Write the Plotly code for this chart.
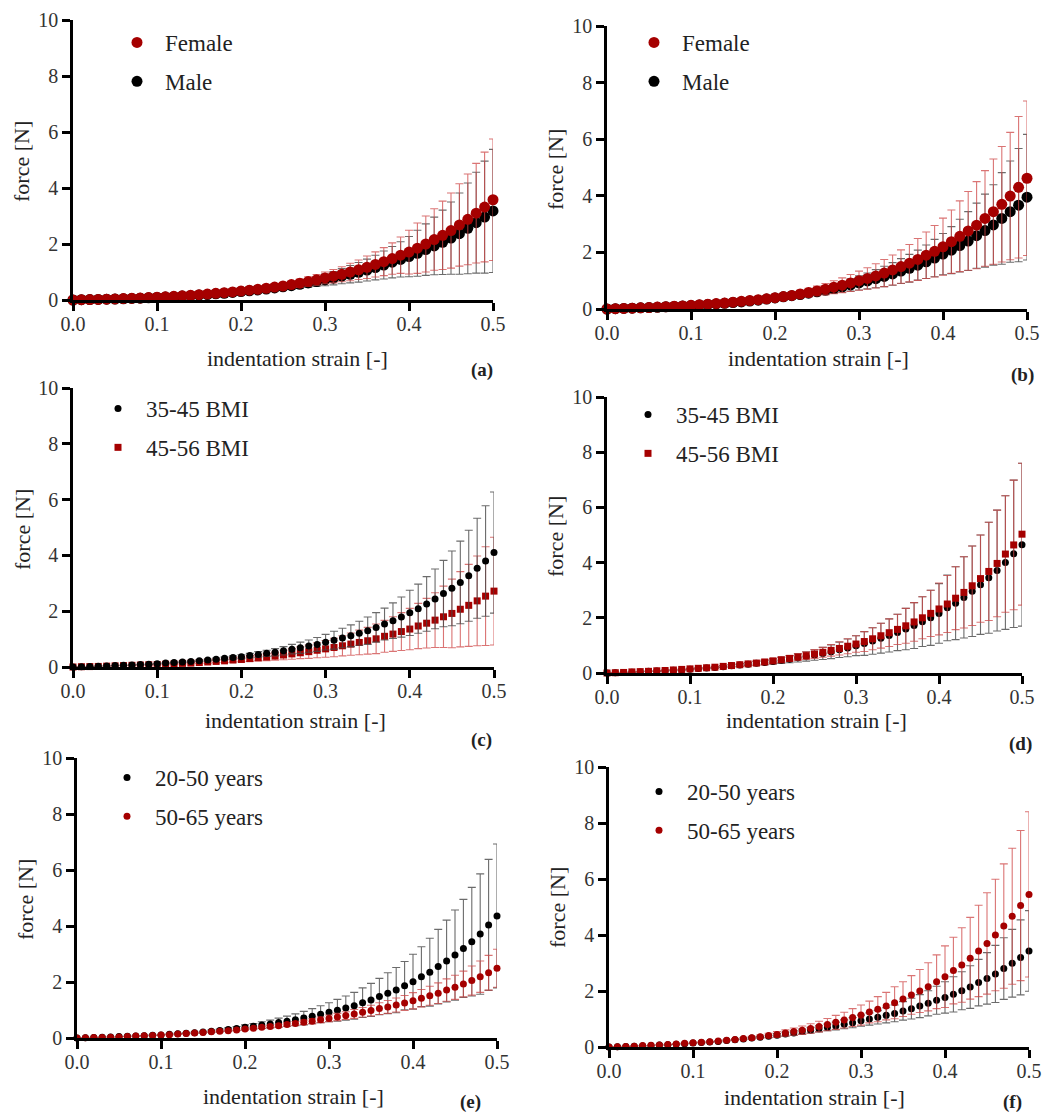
import plotly.graph_objects as go

W, H = 1043, 1115

FONT = "Liberation Serif, Times New Roman, serif"
RED = "#A50000"
BLACK = "#000000"
RED_ERR = "rgba(205,70,70,0.75)"
BLACK_ERR = "rgba(70,70,70,0.8)"

STRAIN = [0.00, 0.01, 0.02, 0.03, 0.04, 0.05, 0.06, 0.07, 0.08, 0.09,
          0.10, 0.11, 0.12, 0.13, 0.14, 0.15, 0.16, 0.17, 0.18, 0.19,
          0.20, 0.21, 0.22, 0.23, 0.24, 0.25, 0.26, 0.27, 0.28, 0.29,
          0.30, 0.31, 0.32, 0.33, 0.34, 0.35, 0.36, 0.37, 0.38, 0.39,
          0.40, 0.41, 0.42, 0.43, 0.44, 0.45, 0.46, 0.47, 0.48, 0.49,
          0.50]

X_TICKS = [0.0, 0.1, 0.2, 0.3, 0.4, 0.5]
Y_TICKS = [0, 2, 4, 6, 8, 10]

# ---------------- panel (a) ----------------
A_FEMALE_MEAN = [0.00, 0.01, 0.015, 0.02, 0.03, 0.04, 0.05, 0.06, 0.07, 0.085,
                 0.10, 0.115, 0.13, 0.15, 0.17, 0.19, 0.21, 0.24, 0.26, 0.29,
                 0.32, 0.35, 0.38, 0.42, 0.46, 0.50, 0.55, 0.60, 0.66, 0.72,
                 0.79, 0.85, 0.92, 1.00, 1.08, 1.17, 1.27, 1.37, 1.48, 1.60,
                 1.71, 1.85, 2.00, 2.16, 2.31, 2.48, 2.68, 2.88, 3.10, 3.32,
                 3.58]
A_FEMALE_SD = [0.0, 0.002, 0.003, 0.004, 0.005, 0.006, 0.007, 0.008, 0.01, 0.012,
               0.014, 0.016, 0.018, 0.02, 0.023, 0.026, 0.03, 0.034, 0.038, 0.043,
               0.05, 0.06, 0.07, 0.08, 0.09, 0.11, 0.13, 0.15, 0.17, 0.19,
               0.21, 0.24, 0.27, 0.31, 0.35, 0.40, 0.45, 0.50, 0.56, 0.65,
               0.78, 0.90, 1.00, 1.10, 1.22, 1.34, 1.47, 1.62, 1.78, 1.96,
               2.17]
A_MALE_MEAN = [0.00, 0.01, 0.015, 0.02, 0.03, 0.035, 0.045, 0.055, 0.065, 0.08,
               0.09, 0.105, 0.12, 0.14, 0.155, 0.175, 0.195, 0.22, 0.24, 0.27,
               0.30, 0.33, 0.36, 0.39, 0.43, 0.47, 0.51, 0.56, 0.61, 0.66,
               0.72, 0.78, 0.85, 0.92, 0.99, 1.07, 1.16, 1.25, 1.35, 1.45,
               1.55, 1.67, 1.80, 1.93, 2.06, 2.21, 2.37, 2.56, 2.76, 2.96,
               3.18]
A_MALE_SD = [0.0, 0.002, 0.003, 0.004, 0.005, 0.006, 0.007, 0.008, 0.009, 0.011,
             0.013, 0.015, 0.017, 0.019, 0.021, 0.024, 0.028, 0.032, 0.036, 0.041,
             0.05, 0.055, 0.065, 0.075, 0.085, 0.10, 0.12, 0.14, 0.16, 0.18,
             0.21, 0.24, 0.27, 0.31, 0.35, 0.39, 0.44, 0.50, 0.56, 0.63,
             0.72, 0.82, 0.92, 1.03, 1.15, 1.29, 1.45, 1.62, 1.80, 2.00,
             2.20]

# ---------------- panel (b) ----------------
B_FEMALE_MEAN = [0.00, 0.01, 0.02, 0.03, 0.04, 0.05, 0.07, 0.08, 0.10, 0.11,
                 0.13, 0.15, 0.17, 0.19, 0.21, 0.24, 0.27, 0.30, 0.33, 0.36,
                 0.40, 0.44, 0.48, 0.53, 0.58, 0.64, 0.70, 0.77, 0.84, 0.92,
                 1.00, 1.08, 1.17, 1.27, 1.38, 1.50, 1.62, 1.75, 1.90, 2.04,
                 2.20, 2.38, 2.57, 2.76, 2.96, 3.20, 3.44, 3.70, 3.99, 4.30,
                 4.62]
B_FEMALE_SD = [0.0, 0.003, 0.005, 0.007, 0.009, 0.011, 0.013, 0.015, 0.018, 0.021,
               0.024, 0.027, 0.03, 0.034, 0.038, 0.042, 0.047, 0.052, 0.06, 0.07,
               0.08, 0.09, 0.11, 0.13, 0.15, 0.17, 0.20, 0.23, 0.26, 0.30,
               0.34, 0.38, 0.43, 0.48, 0.53, 0.59, 0.66, 0.74, 0.82, 0.91,
               1.01, 1.12, 1.25, 1.39, 1.54, 1.69, 1.86, 2.04, 2.25, 2.50,
               2.73]
B_MALE_MEAN = [0.00, 0.01, 0.02, 0.03, 0.04, 0.05, 0.06, 0.08, 0.09, 0.11,
               0.12, 0.14, 0.16, 0.18, 0.20, 0.23, 0.25, 0.28, 0.31, 0.35,
               0.39, 0.43, 0.47, 0.51, 0.56, 0.61, 0.66, 0.72, 0.78, 0.85,
               0.92, 0.99, 1.07, 1.15, 1.24, 1.34, 1.44, 1.55, 1.67, 1.80,
               1.94, 2.08, 2.24, 2.40, 2.59, 2.77, 2.97, 3.20, 3.44, 3.67,
               3.95]
B_MALE_SD = [0.0, 0.003, 0.005, 0.007, 0.009, 0.011, 0.013, 0.015, 0.017, 0.019,
             0.021, 0.024, 0.027, 0.03, 0.034, 0.038, 0.042, 0.046, 0.05, 0.055,
             0.06, 0.07, 0.08, 0.09, 0.11, 0.13, 0.15, 0.17, 0.19, 0.22,
             0.25, 0.28, 0.32, 0.36, 0.40, 0.44, 0.49, 0.53, 0.59, 0.66,
             0.73, 0.83, 0.93, 1.04, 1.15, 1.29, 1.42, 1.62, 1.79, 2.00,
             2.22]

# ---------------- panel (c) ----------------
C_BMI35_MEAN = [0.00, 0.01, 0.02, 0.03, 0.04, 0.05, 0.06, 0.07, 0.09, 0.10,
                0.12, 0.14, 0.16, 0.18, 0.20, 0.22, 0.25, 0.28, 0.31, 0.34,
                0.37, 0.41, 0.45, 0.49, 0.53, 0.58, 0.64, 0.69, 0.75, 0.81,
                0.89, 0.96, 1.04, 1.12, 1.21, 1.30, 1.42, 1.54, 1.66, 1.79,
                1.94, 2.09, 2.26, 2.44, 2.63, 2.82, 3.03, 3.27, 3.54, 3.80,
                4.10]
C_BMI35_SD = [0.0, 0.002, 0.003, 0.004, 0.005, 0.006, 0.007, 0.008, 0.01, 0.012,
              0.014, 0.016, 0.018, 0.02, 0.022, 0.025, 0.03, 0.04, 0.05, 0.06,
              0.07, 0.08, 0.10, 0.11, 0.13, 0.15, 0.17, 0.20, 0.22, 0.25,
              0.28, 0.32, 0.35, 0.39, 0.43, 0.49, 0.53, 0.57, 0.64, 0.72,
              0.81, 0.88, 0.98, 1.07, 1.19, 1.34, 1.48, 1.63, 1.79, 1.98,
              2.17]
C_BMI45_MEAN = [0.00, 0.01, 0.015, 0.02, 0.03, 0.04, 0.05, 0.06, 0.07, 0.08,
                0.09, 0.10, 0.11, 0.13, 0.14, 0.16, 0.18, 0.20, 0.22, 0.25,
                0.27, 0.30, 0.33, 0.36, 0.39, 0.43, 0.47, 0.51, 0.55, 0.60,
                0.65, 0.70, 0.76, 0.82, 0.88, 0.94, 1.01, 1.10, 1.18, 1.27,
                1.36, 1.47, 1.57, 1.68, 1.80, 1.92, 2.07, 2.21, 2.37, 2.54,
                2.72]
C_BMI45_SD = [0.0, 0.002, 0.003, 0.004, 0.005, 0.006, 0.007, 0.008, 0.01, 0.012,
              0.014, 0.016, 0.018, 0.02, 0.025, 0.03, 0.04, 0.05, 0.06, 0.07,
              0.08, 0.10, 0.11, 0.13, 0.15, 0.17, 0.19, 0.21, 0.24, 0.27,
              0.30, 0.33, 0.36, 0.40, 0.44, 0.48, 0.53, 0.57, 0.62, 0.68,
              0.74, 0.81, 0.89, 0.98, 1.10, 1.23, 1.35, 1.47, 1.61, 1.77,
              1.93]

# ---------------- panel (d) ----------------
D_BMI35_MEAN = [0.00, 0.01, 0.02, 0.03, 0.04, 0.06, 0.07, 0.09, 0.10, 0.12,
                0.14, 0.16, 0.18, 0.20, 0.23, 0.26, 0.29, 0.32, 0.35, 0.38,
                0.42, 0.46, 0.50, 0.55, 0.60, 0.65, 0.71, 0.77, 0.84, 0.91,
                0.99, 1.07, 1.16, 1.26, 1.36, 1.47, 1.59, 1.72, 1.86, 2.00,
                2.16, 2.36, 2.53, 2.74, 2.96, 3.20, 3.45, 3.71, 4.00, 4.32,
                4.65]
D_BMI35_SD = [0.0, 0.002, 0.003, 0.005, 0.006, 0.008, 0.01, 0.012, 0.014, 0.016,
              0.018, 0.02, 0.02, 0.03, 0.03, 0.04, 0.05, 0.06, 0.07, 0.08,
              0.09, 0.11, 0.13, 0.15, 0.17, 0.19, 0.22, 0.25, 0.28, 0.32,
              0.36, 0.43, 0.48, 0.54, 0.60, 0.66, 0.75, 0.83, 0.90, 1.00,
              1.08, 1.19, 1.32, 1.47, 1.64, 1.80, 2.01, 2.19, 2.42, 2.67,
              2.95]
D_BMI45_MEAN = [0.00, 0.01, 0.02, 0.04, 0.05, 0.06, 0.08, 0.09, 0.11, 0.13,
                0.15, 0.17, 0.19, 0.21, 0.24, 0.27, 0.30, 0.33, 0.36, 0.40,
                0.44, 0.48, 0.53, 0.58, 0.63, 0.69, 0.75, 0.82, 0.89, 0.97,
                1.05, 1.14, 1.24, 1.35, 1.46, 1.58, 1.71, 1.85, 2.00, 2.16,
                2.32, 2.50, 2.71, 2.92, 3.16, 3.42, 3.68, 3.97, 4.31, 4.64,
                5.03]
D_BMI45_SD = [0.0, 0.002, 0.003, 0.005, 0.006, 0.008, 0.01, 0.012, 0.014, 0.016,
              0.018, 0.02, 0.02, 0.03, 0.03, 0.04, 0.05, 0.06, 0.07, 0.075,
              0.08, 0.09, 0.10, 0.12, 0.14, 0.16, 0.18, 0.21, 0.24, 0.27,
              0.30, 0.36, 0.40, 0.45, 0.50, 0.55, 0.63, 0.70, 0.76, 0.84,
              0.94, 1.03, 1.14, 1.29, 1.44, 1.58, 1.78, 1.93, 2.11, 2.35,
              2.57]

# ---------------- panel (e) ----------------
E_AGE20_MEAN = [0.00, 0.01, 0.02, 0.03, 0.04, 0.05, 0.06, 0.07, 0.08, 0.10,
                0.11, 0.13, 0.15, 0.17, 0.19, 0.21, 0.24, 0.27, 0.30, 0.34,
                0.38, 0.42, 0.46, 0.50, 0.55, 0.60, 0.65, 0.71, 0.78, 0.85,
                0.92, 0.99, 1.07, 1.15, 1.26, 1.36, 1.48, 1.60, 1.71, 1.87,
                2.01, 2.19, 2.35, 2.55, 2.75, 2.96, 3.20, 3.44, 3.71, 4.04,
                4.36]
E_AGE20_SD = [0.0, 0.002, 0.003, 0.004, 0.005, 0.006, 0.007, 0.008, 0.01, 0.012,
              0.014, 0.016, 0.018, 0.02, 0.025, 0.03, 0.04, 0.05, 0.06, 0.07,
              0.09, 0.10, 0.12, 0.14, 0.16, 0.18, 0.21, 0.24, 0.27, 0.30,
              0.34, 0.39, 0.43, 0.48, 0.53, 0.59, 0.65, 0.73, 0.81, 0.86,
              0.98, 1.07, 1.21, 1.33, 1.46, 1.61, 1.75, 1.94, 2.15, 2.34,
              2.57]
E_AGE50_MEAN = [0.00, 0.01, 0.02, 0.02, 0.03, 0.04, 0.05, 0.07, 0.08, 0.09,
                0.11, 0.12, 0.14, 0.16, 0.18, 0.20, 0.22, 0.24, 0.26, 0.29,
                0.32, 0.35, 0.38, 0.41, 0.44, 0.48, 0.52, 0.56, 0.60, 0.65,
                0.70, 0.75, 0.80, 0.86, 0.92, 0.98, 1.05, 1.11, 1.18, 1.25,
                1.33, 1.42, 1.51, 1.60, 1.71, 1.81, 1.93, 2.05, 2.19, 2.33,
                2.49]
E_AGE50_SD = [0.0, 0.001, 0.002, 0.003, 0.004, 0.005, 0.005, 0.006, 0.007, 0.008,
              0.009, 0.01, 0.011, 0.012, 0.013, 0.014, 0.016, 0.018, 0.02, 0.025,
              0.03, 0.03, 0.04, 0.04, 0.05, 0.06, 0.07, 0.08, 0.09, 0.10,
              0.12, 0.13, 0.14, 0.16, 0.17, 0.19, 0.21, 0.23, 0.25, 0.27,
              0.29, 0.31, 0.34, 0.37, 0.40, 0.43, 0.46, 0.52, 0.56, 0.62,
              0.68]

# ---------------- panel (f) ----------------
F_AGE20_MEAN = [0.00, 0.01, 0.02, 0.03, 0.04, 0.05, 0.07, 0.08, 0.10, 0.12,
                0.14, 0.16, 0.18, 0.20, 0.23, 0.26, 0.29, 0.32, 0.35, 0.38,
                0.42, 0.46, 0.50, 0.55, 0.60, 0.65, 0.70, 0.75, 0.81, 0.87,
                0.94, 1.00, 1.06, 1.13, 1.20, 1.29, 1.37, 1.46, 1.56, 1.67,
                1.77, 1.88, 2.01, 2.14, 2.30, 2.45, 2.61, 2.80, 2.99, 3.20,
                3.43]
F_AGE20_SD = [0.0, 0.002, 0.003, 0.004, 0.005, 0.006, 0.007, 0.008, 0.009, 0.01,
              0.011, 0.012, 0.014, 0.016, 0.018, 0.02, 0.023, 0.026, 0.03, 0.04,
              0.06, 0.07, 0.08, 0.09, 0.10, 0.11, 0.12, 0.14, 0.16, 0.18,
              0.20, 0.22, 0.24, 0.27, 0.30, 0.33, 0.37, 0.41, 0.45, 0.50,
              0.56, 0.63, 0.68, 0.76, 0.83, 0.92, 1.02, 1.10, 1.21, 1.34,
              1.44]
F_AGE50_MEAN = [0.00, 0.01, 0.02, 0.03, 0.05, 0.06, 0.07, 0.09, 0.11, 0.13,
                0.15, 0.17, 0.19, 0.21, 0.24, 0.27, 0.30, 0.33, 0.37, 0.41,
                0.45, 0.50, 0.55, 0.60, 0.66, 0.73, 0.80, 0.88, 0.96, 1.05,
                1.14, 1.25, 1.35, 1.46, 1.58, 1.71, 1.86, 2.00, 2.15, 2.33,
                2.51, 2.73, 2.93, 3.17, 3.43, 3.70, 4.00, 4.32, 4.67, 5.05,
                5.45]
F_AGE50_SD = [0.0, 0.002, 0.003, 0.004, 0.005, 0.006, 0.007, 0.008, 0.01, 0.012,
              0.014, 0.016, 0.018, 0.02, 0.025, 0.03, 0.04, 0.05, 0.06, 0.08,
              0.10, 0.11, 0.13, 0.15, 0.17, 0.19, 0.22, 0.25, 0.28, 0.32,
              0.36, 0.39, 0.45, 0.49, 0.57, 0.62, 0.69, 0.77, 0.86, 0.96,
              1.10, 1.19, 1.33, 1.46, 1.63, 1.81, 1.99, 2.22, 2.43, 2.68,
              2.95]

PANEL_LABELS = ["(a)", "(b)", "(c)", "(d)", "(e)", "(f)"]
X_TITLE = "indentation strain [-]"
Y_TITLE = "force [N]"

# series per panel: (name, mean, sd, color, err color, symbol, size, legend rank)
SERIES = [
    [("Male", A_MALE_MEAN, A_MALE_SD, BLACK, BLACK_ERR, "circle", 11, 2),
     ("Female", A_FEMALE_MEAN, A_FEMALE_SD, RED, RED_ERR, "circle", 11, 1)],
    [("Male", B_MALE_MEAN, B_MALE_SD, BLACK, BLACK_ERR, "circle", 11, 2),
     ("Female", B_FEMALE_MEAN, B_FEMALE_SD, RED, RED_ERR, "circle", 11, 1)],
    [("45-56 BMI", C_BMI45_MEAN, C_BMI45_SD, RED, RED_ERR, "square", 7, 2),
     ("35-45 BMI", C_BMI35_MEAN, C_BMI35_SD, BLACK, BLACK_ERR, "circle", 7, 1)],
    [("35-45 BMI", D_BMI35_MEAN, D_BMI35_SD, BLACK, BLACK_ERR, "circle", 7, 1),
     ("45-56 BMI", D_BMI45_MEAN, D_BMI45_SD, RED, RED_ERR, "square", 7, 2)],
    [("20-50 years", E_AGE20_MEAN, E_AGE20_SD, BLACK, BLACK_ERR, "circle", 7, 1),
     ("50-65 years", E_AGE50_MEAN, E_AGE50_SD, RED, RED_ERR, "circle", 7, 2)],
    [("20-50 years", F_AGE20_MEAN, F_AGE20_SD, BLACK, BLACK_ERR, "circle", 7, 1),
     ("50-65 years", F_AGE50_MEAN, F_AGE50_SD, RED, RED_ERR, "circle", 7, 2)],
]

# layout in picture pixels: plot box (left, right, top, bottom)
BOXES = [(73, 493, 20, 300), (607, 1027, 26, 309),
         (73, 494, 388, 667), (607, 1022, 397, 673),
         (77, 497, 758, 1038), (609, 1029, 767, 1047)]
LEGEND_POS = [(109, 21), (626, 21), (90, 387), (620, 393), (99, 756), (631, 770)]
YTITLE_POS = [(22, 162), (555, 170), (22, 530), (555, 537), (25, 900), (557, 908)]
XTITLE_POS = [(297, 358), (818, 358), (295, 720), (816, 720), (293, 1096), (814, 1097)]
LABEL_POS = [(482, 370), (1022, 375), (481, 740), (1020, 744), (470, 1102), (1012, 1102)]


def px(xp):
    return xp / W


def py(yp):
    return 1 - yp / H


fig = go.Figure()
layout = dict(width=W, height=H,
              margin=dict(l=0, r=0, t=0, b=0, pad=0, autoexpand=False),
              paper_bgcolor="white", plot_bgcolor="white", annotations=[],
              font=dict(family=FONT))

for i, series in enumerate(SERIES):
    k = "" if i == 0 else str(i + 1)
    lg = "legend" + k
    for (name, mean, sd, col, ecol, sym, size, rank) in series:
        fig.add_trace(go.Scatter(
            x=STRAIN, y=mean, mode="markers", name=name,
            xaxis="x" + k, yaxis="y" + k, legend=lg,
            legendgroup=name + k, legendrank=rank,
            cliponaxis=False,
            marker=dict(color=col, size=size, symbol=sym, line=dict(width=0)),
            error_y=dict(type="data", array=sd, visible=True, color=ecol,
                         thickness=1.1, width=4),
        ))
    l, r, t, b = BOXES[i]
    axfont = dict(family=FONT, size=20, color="#333333")
    layout["xaxis" + k] = dict(
        domain=[px(l), px(r)], anchor="y" + k, range=[0, 0.5],
        tickvals=X_TICKS, tickformat=".1f", showline=True, linewidth=2.5,
        linecolor="black", ticks="outside", ticklen=8, tickwidth=2.5,
        tickcolor="black", tickfont=axfont, showgrid=False, zeroline=False,
        fixedrange=True, automargin=False, ticklabelstandoff=-4,
        ticklabeloverflow="allow")
    layout["yaxis" + k] = dict(
        domain=[py(b), py(t)], anchor="x" + k, range=[0, 10],
        tickvals=Y_TICKS, showline=True, linewidth=2.5, linecolor="black",
        ticks="outside", ticklen=8, tickwidth=2.5, tickcolor="black",
        tickfont=axfont, showgrid=False, zeroline=False, fixedrange=True,
        automargin=False, ticklabeloverflow="allow")
    lx, ly = LEGEND_POS[i]
    layout[lg] = dict(x=px(lx), y=py(ly), xanchor="left", yanchor="top",
                      bgcolor="rgba(0,0,0,0)", borderwidth=0,
                      traceorder="grouped", tracegroupgap=6, itemwidth=46,
                      font=dict(family=FONT, size=23, color="#222222"))
    yx, yy = YTITLE_POS[i]
    layout["annotations"].append(dict(
        text=Y_TITLE, x=px(yx), y=py(yy), xref="paper", yref="paper",
        showarrow=False, textangle=-90, xanchor="center", yanchor="middle",
        font=dict(family=FONT, size=22, color="#222222")))
    xx, xy = XTITLE_POS[i]
    layout["annotations"].append(dict(
        text=X_TITLE, x=px(xx), y=py(xy), xref="paper", yref="paper",
        showarrow=False, xanchor="center", yanchor="middle",
        font=dict(family=FONT, size=22, color="#222222")))
    ax_, ay_ = LABEL_POS[i]
    layout["annotations"].append(dict(
        text="<b>" + PANEL_LABELS[i] + "</b>", x=px(ax_), y=py(ay_),
        xref="paper", yref="paper", showarrow=False,
        xanchor="center", yanchor="middle",
        font=dict(family=FONT, size=19, color="#222222")))

fig.update_layout(**layout)
# remove the page's default body margin so the figure fills the window exactly
fig.write_html("out.html",
               config={"displayModeBar": False},
               post_script="document.body.style.margin='0';"
                           "document.body.style.overflow='hidden';")
